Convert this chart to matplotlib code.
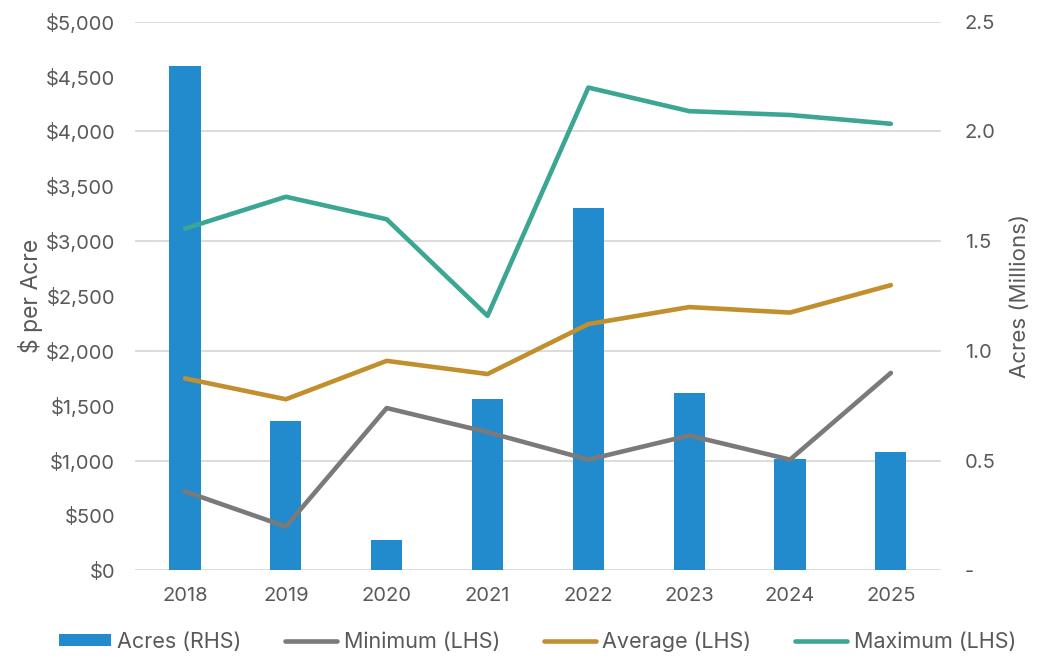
import numpy as np
import matplotlib.pyplot as plt
from matplotlib.ticker import FuncFormatter

plt.rcParams['font.family'] = ['Inter', 'DejaVu Sans']

years = ['2018', '2019', '2020', '2021', '2022', '2023', '2024', '2025']
acres = [2.30, 0.68, 0.14, 0.78, 1.65, 0.81, 0.51, 0.54]          # millions (RHS)
minimum = [720, 400, 1480, 1260, 1010, 1230, 1010, 1800]          # $ per acre (LHS)
average = [1750, 1560, 1910, 1790, 2245, 2400, 2350, 2600]
maximum = [3115, 3405, 3200, 2320, 4400, 4185, 4150, 4070]

txt = '#595959'
x = np.arange(len(years))

fig = plt.figure(figsize=(10.6, 6.58), dpi=100)
ax = fig.add_axes([0.127, 0.133, 0.761, 0.834])
ax2 = ax.twinx()

# bars on the right axis, drawn underneath
ax2.bar(x, acres, width=0.31, color='#228BCD', label='Acres (RHS)', zorder=2)
ax2.set_ylim(0, 2.5)
ax2.set_yticks(np.arange(0, 2.51, 0.5))
ax2.yaxis.set_major_formatter(FuncFormatter(lambda v, p: '-' if v == 0 else f'{v:.1f}'))
ax2.set_ylabel('Acres (Millions)', fontsize=16, color=txt, labelpad=10)

ax.set_zorder(ax2.get_zorder() + 1)
ax.patch.set_visible(False)

ax.plot(x, minimum, color='#7A7A7A', lw=3.3, label='Minimum (LHS)', solid_capstyle='round')
ax.plot(x, average, color='#C18F2E', lw=3.3, label='Average (LHS)', solid_capstyle='round')
ax.plot(x, maximum, color='#3AA693', lw=3.3, label='Maximum (LHS)', solid_capstyle='round')

ax.set_ylim(0, 5000)
ax.set_yticks(np.arange(0, 5001, 500))
ax.yaxis.set_major_formatter(FuncFormatter(lambda v, p: f'${v:,.0f}'))
ax.set_xlim(-0.5, len(years) - 0.5)
ax.set_xticks(x)
ax.set_xticklabels(years)
ax.set_ylabel('$ per Acre', fontsize=16.5, color=txt, labelpad=2)

ax2.yaxis.grid(True, color='#D9D9D9', lw=1.3, zorder=0)
ax2.set_axisbelow(True)

for a in (ax, ax2):
    for s in a.spines.values():
        s.set_visible(False)
    a.tick_params(length=0, labelsize=14.5, colors=txt)
ax.tick_params(axis='x', pad=12)
ax.tick_params(axis='y', pad=14)
ax2.tick_params(axis='y', pad=17)

h1, l1 = ax2.get_legend_handles_labels()
h2, l2 = ax.get_legend_handles_labels()
leg = fig.legend(h1 + h2, l1 + l2, loc='center', bbox_to_anchor=(0.507, 0.025), ncol=4,
                 frameon=False, fontsize=15.5, handlelength=2.4, handleheight=0.5,
                 columnspacing=2.05, handletextpad=0.3)
for t in leg.get_texts():
    t.set_color(txt)

plt.savefig('out.png', dpi=100)
